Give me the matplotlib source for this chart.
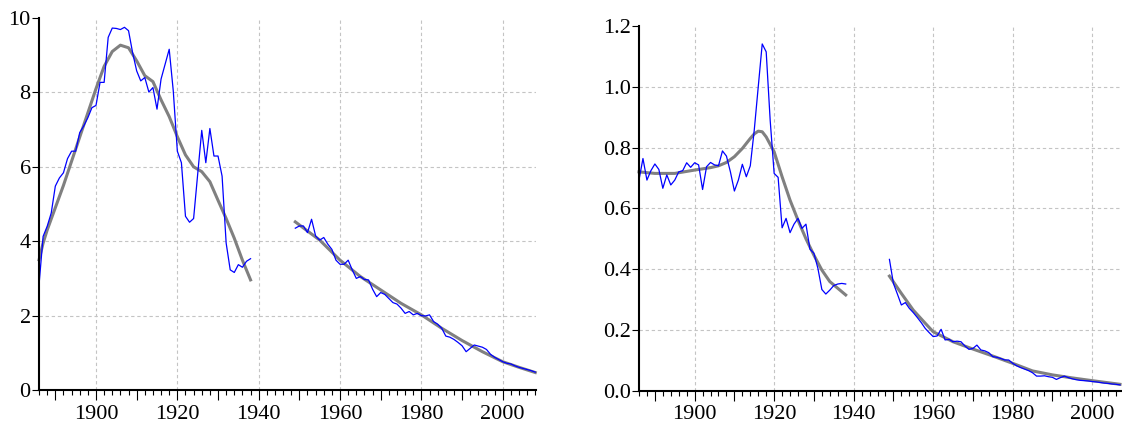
import numpy as np
import matplotlib.pyplot as plt
from matplotlib.ticker import MultipleLocator, FuncFormatter

# Painel esquerdo: série anual (azul) e curva suavizada (cinza), com lacuna 1939-1948
anos_a1 = np.arange(1886, 1939)
serie_a1 = [2.83, 4.13, 4.40, 4.76, 5.48, 5.70, 5.84, 6.22, 6.42, 6.42,
            6.92, 7.10, 7.32, 7.59, 7.65, 8.27, 8.27, 9.48, 9.73, 9.72,
            9.69, 9.75, 9.66, 9.07, 8.58, 8.31, 8.40, 8.01, 8.13, 7.55,
            8.36, 8.76, 9.16, 8.04, 6.42, 6.11, 4.67, 4.51, 4.61, 5.80,
            6.98, 6.11, 7.03, 6.29, 6.29, 5.75, 3.95, 3.23, 3.16, 3.37,
            3.30, 3.46, 3.53]
anos_a2 = np.arange(1949, 2009)
serie_a2 = [4.35, 4.41, 4.41, 4.23, 4.59, 4.14, 4.03, 4.10, 3.92, 3.78,
            3.49, 3.38, 3.38, 3.49, 3.23, 3.00, 3.05, 2.97, 2.96, 2.71,
            2.51, 2.62, 2.57, 2.46, 2.35, 2.31, 2.20, 2.06, 2.11, 2.02,
            2.06, 2.00, 1.99, 2.02, 1.84, 1.77, 1.66, 1.45, 1.42, 1.36,
            1.28, 1.19, 1.03, 1.12, 1.21, 1.18, 1.15, 1.09, 0.96, 0.88,
            0.82, 0.76, 0.72, 0.70, 0.65, 0.61, 0.58, 0.55, 0.52, 0.48]
suave_a1_anos = [1886, 1887, 1888, 1890, 1892, 1894, 1896, 1898, 1900, 1902,
                 1904, 1906, 1908, 1910, 1912, 1914, 1916, 1918, 1920, 1922,
                 1924, 1926, 1928, 1930, 1932, 1934, 1936, 1938]
suave_a1 = [3.50, 3.95, 4.30, 4.90, 5.50, 6.15, 6.80, 7.45, 8.10, 8.70,
            9.10, 9.27, 9.20, 8.85, 8.45, 8.29, 7.80, 7.35, 6.81, 6.32,
            6.00, 5.87, 5.60, 5.10, 4.61, 4.08, 3.49, 2.96]
suave_a2_anos = [1949, 1955, 1960, 1965, 1970, 1975, 1980, 1985, 1990, 1995,
                 2000, 2004, 2008]
suave_a2 = [4.52, 4.03, 3.49, 3.05, 2.69, 2.33, 2.02, 1.66, 1.33, 1.03,
            0.76, 0.61, 0.47]

# Painel direito
anos_b1 = np.arange(1886, 1939)
serie_b1 = [0.693, 0.764, 0.693, 0.724, 0.746, 0.728, 0.666, 0.710, 0.677, 0.693,
            0.720, 0.724, 0.750, 0.735, 0.750, 0.743, 0.662, 0.737, 0.751, 0.743,
            0.740, 0.789, 0.772, 0.720, 0.657, 0.693, 0.745, 0.704, 0.740, 0.858,
            1.000, 1.141, 1.115, 0.890, 0.715, 0.702, 0.536, 0.567, 0.520, 0.548,
            0.567, 0.534, 0.548, 0.466, 0.452, 0.403, 0.333, 0.318, 0.331, 0.346,
            0.351, 0.353, 0.351]
anos_b2 = np.arange(1949, 2008)
serie_b2 = [0.432, 0.353, 0.318, 0.282, 0.290, 0.271, 0.257, 0.241, 0.224, 0.205,
            0.191, 0.178, 0.180, 0.202, 0.167, 0.169, 0.161, 0.163, 0.161, 0.147,
            0.136, 0.139, 0.150, 0.134, 0.131, 0.125, 0.112, 0.110, 0.106, 0.101,
            0.101, 0.090, 0.082, 0.076, 0.071, 0.066, 0.059, 0.048, 0.048, 0.049,
            0.046, 0.044, 0.037, 0.043, 0.048, 0.043, 0.039, 0.036, 0.034, 0.033,
            0.032, 0.030, 0.029, 0.027, 0.025, 0.024, 0.022, 0.021, 0.019]
suave_b1_anos = [1886, 1890, 1895, 1900, 1904, 1906, 1908, 1910, 1912, 1914,
                 1915, 1916, 1917, 1918, 1920, 1922, 1924, 1926, 1928, 1930,
                 1932, 1934, 1936, 1938]
suave_b1 = [0.720, 0.715, 0.715, 0.726, 0.734, 0.740, 0.751, 0.770, 0.797, 0.830,
            0.845, 0.854, 0.852, 0.835, 0.786, 0.704, 0.627, 0.561, 0.500, 0.446,
            0.397, 0.359, 0.337, 0.315]
suave_b2_anos = [1949, 1952, 1955, 1958, 1960, 1965, 1970, 1975, 1980, 1985,
                 1990, 1995, 2000, 2007]
suave_b2 = [0.377, 0.320, 0.265, 0.222, 0.194, 0.161, 0.137, 0.114, 0.090, 0.065,
            0.052, 0.042, 0.033, 0.021]

plt.rcParams['font.family'] = 'serif'
plt.rcParams['font.serif'] = ['Liberation Serif', 'DejaVu Serif']
plt.rcParams['font.size'] = 16

fig = plt.figure(figsize=(11.22, 4.23), dpi=100)
ax1 = fig.add_axes([0.0348, 0.078, 0.443, 0.8794])
ax2 = fig.add_axes([0.5695, 0.0764, 0.4305, 0.8621])


def formatar(ax, ymax, ystep, xmax, fmt):
    ax.set_xlim(1886, xmax)
    ax.set_ylim(0, ymax)
    for lado in ['top', 'right']:
        ax.spines[lado].set_visible(False)
    for lado in ['left', 'bottom']:
        ax.spines[lado].set_linewidth(1.5)
    ax.xaxis.set_major_locator(MultipleLocator(10))
    ax.xaxis.set_minor_locator(MultipleLocator(2))
    ax.xaxis.set_major_formatter(FuncFormatter(
        lambda v, p: '%d' % v if round(v) % 20 == 0 else ''))
    ax.yaxis.set_major_locator(MultipleLocator(ystep))
    ax.yaxis.set_major_formatter(FuncFormatter(lambda v, p: fmt % v))
    ax.tick_params(axis='x', which='major', length=7.5, width=0.8, pad=3)
    ax.tick_params(axis='x', which='minor', length=3.8, width=0.8)
    ax.tick_params(axis='y', length=5, width=0.8, pad=1)
    grade = dict(color='#c4c4c4', lw=0.8, ls=(0, (3, 2.5)), zorder=0)
    for ano in range(1900, 2008, 20):
        ax.axvline(ano, **grade)
    for v in np.arange(ystep, ymax - ystep / 2, ystep):
        ax.axhline(v, **grade)


formatar(ax1, 10, 2, 2008.2, '%d')
formatar(ax2, 1.2, 0.2, 2007.5, '%.1f')

for ax, segs in [(ax1, [(suave_a1_anos, suave_a1, anos_a1, serie_a1),
                        (suave_a2_anos, suave_a2, anos_a2, serie_a2)]),
                 (ax2, [(suave_b1_anos, suave_b1, anos_b1, serie_b1),
                        (suave_b2_anos, suave_b2, anos_b2, serie_b2)])]:
    for sx, sy, x, y in segs:
        ax.plot(sx, sy, color='#808080', lw=2.2, clip_on=False)
        ax.plot(x, y, color='#0000ff', lw=0.9, clip_on=False)

plt.savefig('out.png', dpi=100)
plt.close()
